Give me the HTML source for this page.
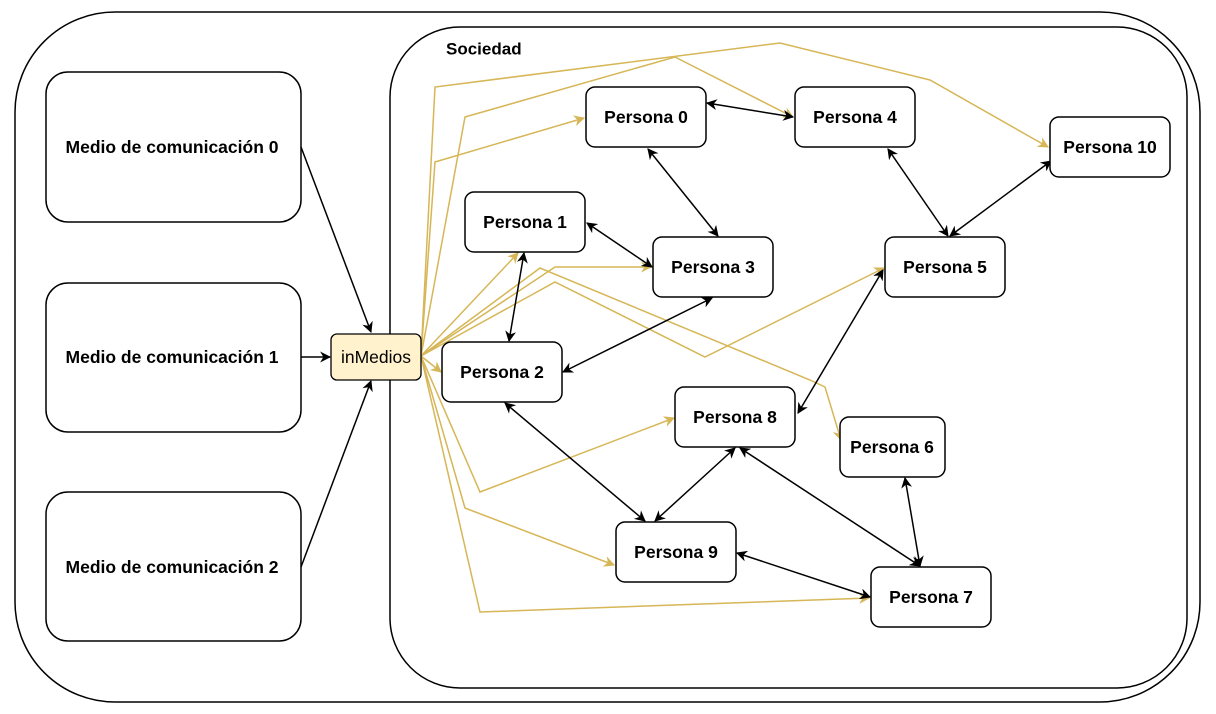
<!DOCTYPE html>
<html><head><meta charset="utf-8"><style>
html,body{margin:0;padding:0;background:#fff;}
svg{display:block;font-family:"Liberation Sans",Arial,sans-serif;}
.b{fill:#fff;stroke:#000;stroke-width:1.5;}
.t{font-weight:bold;font-size:17.5px;text-anchor:middle;dominant-baseline:central;}
.k{stroke:#000;stroke-width:1.5;fill:none;}
.g{stroke:#d6b656;stroke-width:1.5;fill:none;}
</style></head><body>
<svg width="1216" height="714" viewBox="0 0 1216 714">
<defs>
<marker id="ak" viewBox="0 0 10 10" refX="9" refY="5" markerWidth="11" markerHeight="11" markerUnits="userSpaceOnUse" orient="auto-start-reverse"><path d="M0,0 L10,5 L0,10 L3,5 Z" fill="#000"/></marker>
<marker id="ag" viewBox="0 0 10 10" refX="9" refY="5" markerWidth="11" markerHeight="11" markerUnits="userSpaceOnUse" orient="auto"><path d="M0,0 L10,5 L0,10 L3,5 Z" fill="#d6b656"/></marker>
</defs>
<rect x="15" y="12" width="1185" height="690" rx="100" class="b"/>
<rect x="390" y="27" width="797" height="661" rx="70" class="b"/>
<text x="446" y="49" class="t" style="text-anchor:start;font-size:17px">Sociedad</text>

<rect x="46" y="72" width="255" height="150" rx="22" class="b"/>
<text x="172" y="147" class="t">Medio de comunicación 0</text>
<rect x="46" y="283" width="255" height="149" rx="22" class="b"/>
<text x="172" y="357" class="t">Medio de comunicación 1</text>
<rect x="46" y="492" width="255" height="149" rx="22" class="b"/>
<text x="172" y="567" class="t">Medio de comunicación 2</text>

<line x1="301" y1="147" x2="371" y2="332" class="k" marker-end="url(#ak)"/>
<line x1="301" y1="357" x2="330" y2="357" class="k" marker-end="url(#ak)"/>
<line x1="301" y1="567" x2="371" y2="381" class="k" marker-end="url(#ak)"/>

<g class="g">
<polyline points="421,356 435,87 780,43 930,80 1048,147" marker-end="url(#ag)"/>
<polyline points="421,356 465,117 675,57 793,117" marker-end="url(#ag)"/>
<polyline points="421,356 435,162 584,118" marker-end="url(#ag)"/>
<polyline points="421,356 518,253" marker-end="url(#ag)"/>
<polyline points="421,356 555,267 651,267" marker-end="url(#ag)"/>
<polyline points="421,356 540,268 810,380 825,387 841,440" marker-end="url(#ag)"/>
<polyline points="421,356 555,282 705,357 884,268" marker-end="url(#ag)"/>
<polyline points="421,356 441,372" marker-end="url(#ag)"/>
<polyline points="421,356 480,492 674,418" marker-end="url(#ag)"/>
<polyline points="421,356 465,508 614,565" marker-end="url(#ag)"/>
<polyline points="421,356 480,612 869,598" marker-end="url(#ag)"/>
</g>

<rect x="331" y="334" width="90" height="46" rx="6" style="fill:#fff2cc;stroke:#000;stroke-width:1.3"/>
<text x="376" y="357" style="font-size:17.5px;text-anchor:middle;dominant-baseline:central">inMedios</text>

<g class="k">
<line x1="707" y1="103" x2="793" y2="117" marker-start="url(#ak)" marker-end="url(#ak)"/>
<line x1="648" y1="149" x2="718" y2="236" marker-start="url(#ak)" marker-end="url(#ak)"/>
<line x1="587" y1="223" x2="652" y2="267" marker-start="url(#ak)" marker-end="url(#ak)"/>
<line x1="524" y1="253" x2="509" y2="341" marker-start="url(#ak)" marker-end="url(#ak)"/>
<line x1="712" y1="298" x2="563" y2="372" marker-start="url(#ak)" marker-end="url(#ak)"/>
<line x1="888" y1="149" x2="948" y2="236" marker-start="url(#ak)" marker-end="url(#ak)"/>
<line x1="1051" y1="161" x2="950" y2="236" marker-start="url(#ak)" marker-end="url(#ak)"/>
<line x1="883" y1="270" x2="798" y2="413" marker-start="url(#ak)" marker-end="url(#ak)"/>
<line x1="505" y1="403" x2="645" y2="521" marker-start="url(#ak)" marker-end="url(#ak)"/>
<line x1="735" y1="448" x2="655" y2="521" marker-start="url(#ak)" marker-end="url(#ak)"/>
<line x1="740" y1="448" x2="920" y2="566" marker-start="url(#ak)" marker-end="url(#ak)"/>
<line x1="905" y1="478" x2="920" y2="566" marker-start="url(#ak)" marker-end="url(#ak)"/>
<line x1="737" y1="553" x2="870" y2="597" marker-start="url(#ak)" marker-end="url(#ak)"/>
</g>

<g>
<rect x="586" y="87" width="120" height="60" rx="9" class="b"/><text x="646" y="117" class="t">Persona 0</text>
<rect x="795" y="87" width="120" height="60" rx="9" class="b"/><text x="855" y="117" class="t">Persona 4</text>
<rect x="1050" y="117" width="120" height="60" rx="9" class="b"/><text x="1110" y="147" class="t">Persona 10</text>
<rect x="465" y="192" width="120" height="60" rx="9" class="b"/><text x="525" y="222" class="t">Persona 1</text>
<rect x="653" y="237" width="120" height="60" rx="9" class="b"/><text x="713" y="267" class="t">Persona 3</text>
<rect x="885" y="237" width="120" height="60" rx="9" class="b"/><text x="945" y="267" class="t">Persona 5</text>
<rect x="442" y="342" width="120" height="60" rx="9" class="b"/><text x="502" y="372" class="t">Persona 2</text>
<rect x="675" y="387" width="120" height="60" rx="9" class="b"/><text x="735" y="417" class="t">Persona 8</text>
<rect x="840" y="417" width="105" height="60" rx="9" class="b"/><text x="892" y="447" class="t">Persona 6</text>
<rect x="616" y="522" width="120" height="60" rx="9" class="b"/><text x="676" y="552" class="t">Persona 9</text>
<rect x="871" y="567" width="120" height="60" rx="9" class="b"/><text x="931" y="597" class="t">Persona 7</text>
</g>
</svg>
</body></html>
